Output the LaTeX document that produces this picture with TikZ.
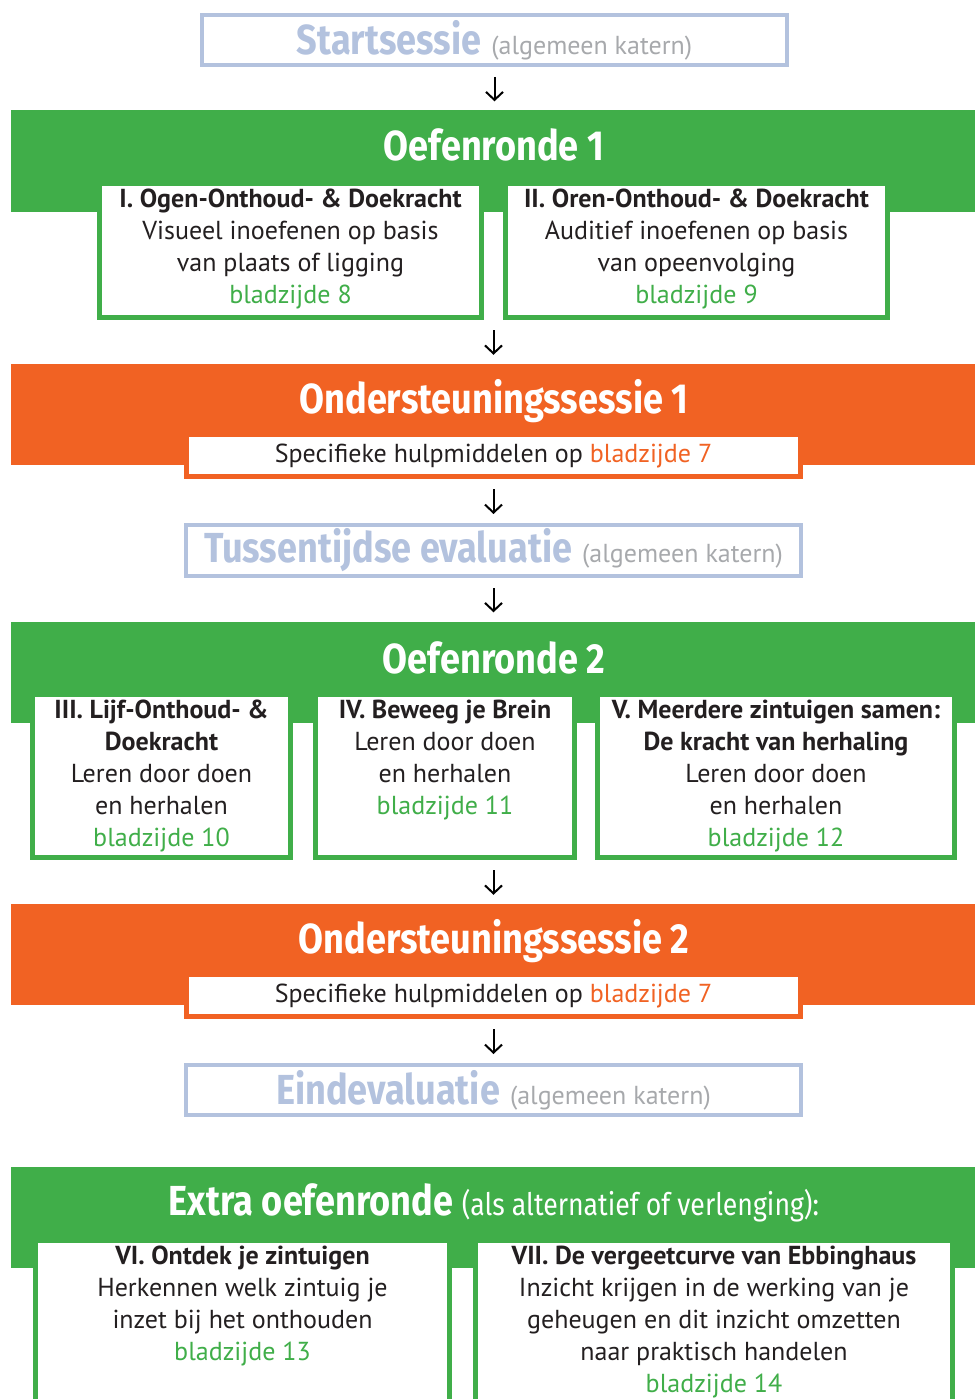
\documentclass[tikz,border=0pt]{standalone}
\usepackage{fontspec}
\setmainfont{PT Sans}
\newfontfamily\headfont{Fira Sans}[FakeStretch=0.86]
\usetikzlibrary{positioning,arrows.meta}
\definecolor{ovGreen}{RGB}{64,174,73}
\definecolor{ovOrange}{RGB}{241,98,35}
\definecolor{ovBlue}{RGB}{179,194,222}
\definecolor{ovGray}{RGB}{167,169,172}
\definecolor{ovInk}{RGB}{35,31,32}

\begin{document}
\begin{tikzpicture}[x=1pt,y=-1pt]
\tikzstyle{every node}=[font=\fontsize{26}{32}\selectfont, text=ovInk, inner sep=0pt]
\tikzstyle{band}=[minimum width=964pt, minimum height=101pt]
\tikzstyle{title}=[anchor=base, font=\headfont\bfseries\fontsize{42}{42}\selectfont, text=white]
\tikzstyle{sessbox}=[draw=ovBlue, line width=4pt, minimum width=615pt, minimum height=50pt]
\tikzstyle{greenbox}=[draw=ovGreen, fill=white, line width=5pt, minimum height=163pt]
\tikzstyle{orangebox}=[draw=ovOrange, fill=white, line width=5pt, minimum width=614pt, minimum height=42pt]
\tikzstyle{boxtext}=[align=center]
\tikzstyle{flow}=[-{Straight Barb[length=8pt,width=17pt]}, line width=2pt, shorten <=10pt, shorten >=9pt]

  \useasboundingbox (0,0) rectangle (977,1399);
  \clip (0,0) rectangle (977,1399);

  % start
  \node[sessbox, minimum width=585pt] (start) at (494.5,40) {{\headfont\bfseries\fontsize{42}{42}\selectfont\color{ovBlue}Startsessie}\hspace{10pt}\textcolor{ovGray}{(algemeen katern)}};

  % oefenronde 1
  \node[band, fill=ovGreen] (round1) at (493,161) {};
  \node[title] (round1Title) at (494,161) {Oefenronde 1};
  \node[greenbox, minimum width=382pt, minimum height=134pt] (ogen) at (290.5,250.5) {};
  \node[greenbox, minimum width=382pt, minimum height=134pt] (oren) at (696.5,250.5) {};
  \node[boxtext, below=8pt of ogen.north] (ogenText) {\textbf{I. Ogen-Onthoud- \& Doekracht}\\Visueel inoefenen op basis\\van plaats of ligging\\\textcolor{ovGreen}{bladzijde 8}};
  \node[boxtext, below=8pt of oren.north] (orenText) {\textbf{II. Oren-Onthoud- \& Doekracht}\\Auditief inoefenen op basis\\van opeenvolging\\\textcolor{ovGreen}{bladzijde 9}};

  % ondersteuning 1
  \node[band, fill=ovOrange] (support1) at (493,414.5) {};
  \node[title] (support1Title) at (494,413) {Ondersteuningssessie 1};
  \node[orangebox] (help1) at (493.5,455.5) {Specifieke hulpmiddelen op \textcolor{ovOrange}{bladzijde 7}};

  % tussentijdse evaluatie
  \node[sessbox, minimum height=51pt] (tussen) at (493.5,550.5) {{\headfont\bfseries\fontsize{42}{42}\selectfont\color{ovBlue}Tussentijdse evaluatie}\hspace{10pt}\textcolor{ovGray}{(algemeen katern)}};

  % oefenronde 2
  \node[band, fill=ovGreen] (round2) at (493,672) {};
  \node[title] (round2Title) at (494,673) {Oefenronde 2};
  \node[greenbox, minimum width=258pt] (lijf) at (161.5,776) {};
  \node[greenbox, minimum width=259pt] (brein) at (445,776) {};
  \node[greenbox, minimum width=357pt] (samen) at (776,776) {};
  \node[boxtext, below=8pt of lijf.north] (lijfText) {\textbf{III. Lijf-Onthoud- \&}\\\textbf{Doekracht}\\Leren door doen\\en herhalen\\\textcolor{ovGreen}{bladzijde 10}};
  \node[boxtext, below=8pt of brein.north] (breinText) {\textbf{IV. Beweeg je Brein}\\Leren door doen\\en herhalen\\\textcolor{ovGreen}{bladzijde 11}};
  \node[boxtext, below=8pt of samen.north] (samenText) {\textbf{V. Meerdere zintuigen samen:}\\\textbf{De kracht van herhaling}\\Leren door doen\\en herhalen\\\textcolor{ovGreen}{bladzijde 12}};

  % ondersteuning 2
  \node[band, fill=ovOrange] (support2) at (493,954.5) {};
  \node[title] (support2Title) at (494,953) {Ondersteuningssessie 2};
  \node[orangebox] (help2) at (493.5,995.5) {Specifieke hulpmiddelen op \textcolor{ovOrange}{bladzijde 7}};

  % eindevaluatie
  \node[sessbox] (eind) at (493.5,1090) {{\headfont\bfseries\fontsize{42}{42}\selectfont\color{ovBlue}Eindevaluatie}\hspace{10pt}\textcolor{ovGray}{(algemeen katern)}};

  % extra oefenronde
  \node[band, fill=ovGreen] (extra) at (493,1217.5) {};
  \node[title] (extraTitle) at (494,1215) {Extra oefenronde {\mdseries\fontsize{31}{31}\selectfont(als alternatief of verlenging):}};
  \node[greenbox, minimum width=414pt, minimum height=177pt] (ontdek) at (242.5,1329) {};
  \node[greenbox, minimum width=477pt, minimum height=177pt] (curve) at (714,1329) {};
  \node[boxtext, below=8pt of ontdek.north] (ontdekText) {\textbf{VI. Ontdek je zintuigen}\\Herkennen welk zintuig je\\inzet bij het onthouden\\\textcolor{ovGreen}{bladzijde 13}};
  \node[boxtext, below=8pt of curve.north] (curveText) {\textbf{VII. De vergeetcurve van Ebbinghaus}\\Inzicht krijgen in de werking van je\\geheugen en dit inzicht omzetten\\naar praktisch handelen\\\textcolor{ovGreen}{bladzijde 14}};

  \draw[flow] (start.south) -- (start.south |- round1.north);
  \draw[flow] (help1.north |- ogen.south) -- (help1.north |- support1.north);
  \draw[flow] (help1.south) -- (help1.south |- tussen.north);
  \draw[flow] (tussen.south) -- (tussen.south |- round2.north);
  \draw[flow] (help2.north |- lijf.south) -- (help2.north |- support2.north);
  \draw[flow] (help2.south) -- (help2.south |- eind.north);

\end{tikzpicture}
\end{document}
